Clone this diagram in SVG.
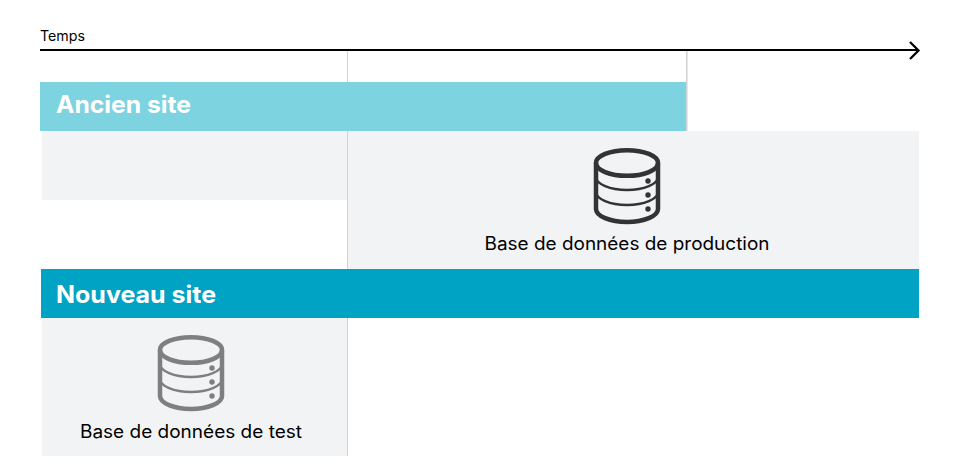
<svg xmlns="http://www.w3.org/2000/svg" width="960" height="473" viewBox="0 0 960 473">
<style>
text{font-family:"Inter","Liberation Sans",sans-serif;font-variant-ligatures:none}
.lbl{font-size:18px;fill:#000}
.hd{font-size:24px;font-weight:700;fill:#fff}
.panel{fill:#f1f3f5}
.guide{stroke:#cfd2d4;fill:none}
.ln{fill:none}
.dot{stroke:none}
</style>
<defs>
<g id="db">
<path class="ln" d="M-31 0V46C-31 53 -17 59 0 59S31 53 31 46V0" stroke-width="4.500"/>
<ellipse class="ln" cx="0" cy="0" rx="31" ry="12.800" stroke-width="4.500"/>
<path class="ln" d="M-31 14C-31 21 -17 27 0 27S31 21 31 14M-31 29C-31 36 -17 42 0 42S31 36 31 29" stroke-width="2.300"/>
<circle class="dot" cx="21" cy="18" r="2.700"/>
<circle class="dot" cx="21" cy="32" r="2.700"/>
<circle class="dot" cx="21" cy="46" r="2.700"/>
</g>
</defs>
<rect width="960" height="473" fill="#fff"/>
<g id="panels">
<rect class="panel" x="42" y="131" width="305" height="69"/>
<rect class="panel" x="347" y="131" width="572" height="138"/>
<rect class="panel" x="42" y="318" width="305" height="138"/>
</g>
<g id="connectors">
<path class="guide" stroke-width="1" d="M347.500 51V456"/>
<path class="guide" stroke-width="1.500" d="M686.800 51V131"/>
<path d="M40 50H918" stroke="#000" stroke-width="2" fill="none"/>
<path d="M910 42L918.500 50.500L910 59" stroke="#000" stroke-width="2.300" fill="none"/>
</g>
<g id="temps"><text class="lbl" x="40" y="41" style="font-size:14px" textLength="45" lengthAdjust="spacingAndGlyphs">Temps</text></g>
<g id="ancien-site">
<rect x="40" y="82" width="646" height="49" fill="#7dd3df"/>
<text class="hd" x="56" y="113" textLength="135" lengthAdjust="spacingAndGlyphs">Ancien site</text>
</g>
<g id="nouveau-site">
<rect x="41" y="269" width="878" height="49" fill="#00a3c4"/>
<text class="hd" x="56" y="303" textLength="160" lengthAdjust="spacingAndGlyphs">Nouveau site</text>
</g>
<g id="prod-db">
<use href="#db" transform="translate(627 163)" stroke="#333" fill="#333"/>
<text class="lbl" x="627" y="250" text-anchor="middle" textLength="285" lengthAdjust="spacingAndGlyphs">Base de données de production</text>
</g>
<g id="test-db">
<use href="#db" transform="translate(191 350)" stroke="#7f7f7f" fill="#7f7f7f"/>
<text class="lbl" x="191" y="438" text-anchor="middle" textLength="222" lengthAdjust="spacingAndGlyphs">Base de données de test</text>
</g>
</svg>
